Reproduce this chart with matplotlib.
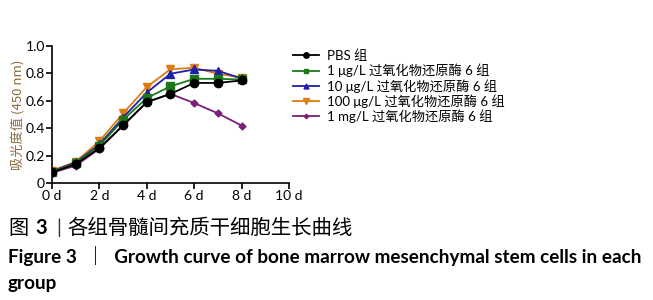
import numpy as np
import matplotlib.pyplot as plt

plt.rcParams['font.family'] = ['Lato', 'Noto Sans CJK SC', 'DejaVu Sans']

# Data
days = [0, 1, 2, 3, 4, 5, 6, 7, 8]
pbs = [0.077, 0.138, 0.254, 0.42, 0.59, 0.65, 0.73, 0.73, 0.748]
g1ug = [0.08, 0.145, 0.272, 0.46, 0.62, 0.705, 0.76, 0.76, 0.755]
g10ug = [0.085, 0.15, 0.282, 0.477, 0.66, 0.797, 0.828, 0.818, 0.763]
g100ug = [0.09, 0.155, 0.305, 0.508, 0.70, 0.83, 0.84, 0.797, 0.768]
g1mg = [0.075, 0.126, 0.25, 0.42, 0.59, 0.65, 0.583, 0.508, 0.419]

labels = ["PBS 组", "1 μg/L 过氧化物还原酶 6 组", "10 μg/L 过氧化物还原酶 6 组",
          "100 μg/L 过氧化物还原酶 6 组", "1 mg/L 过氧化物还原酶 6 组"]
colors = ['#000000', '#1a7a1a', '#1f1fa8', '#e07b10', '#7a1f7a']
markers = ['o', 's', '^', 'v', 'D']
msizes = [6, 5.5, 5.5, 6, 3.5]
series = [pbs, g1ug, g10ug, g100ug, g1mg]
xticks = [0, 2, 4, 6, 8, 10]
yticks = [0, 0.2, 0.4, 0.6, 0.8, 1.0]

cjk = ['Noto Sans CJK SC', 'DejaVu Sans']

fig = plt.figure(figsize=(6.53, 3.0), dpi=100)
ax = fig.add_axes([0.0796, 0.39, 0.363, 0.457])

# draw purple first so the others sit on top
handles = {}
for i in [4, 3, 2, 1, 0]:
    h, = ax.plot(days, series[i], color=colors[i], marker=markers[i], markersize=msizes[i],
                 linewidth=1.3, label=labels[i], zorder=3 + (4 - i))
    handles[i] = h

ax.set_xlim(0, 10)
ax.set_ylim(0, 1.0)
ax.set_xticks(xticks)
ax.set_xticklabels([f"{d} d" for d in xticks])
ax.set_yticks(yticks)
ax.set_yticklabels(['0', '0.2', '0.4', '0.6', '0.8', '1.0'])
ax.spines['top'].set_visible(False)
ax.spines['right'].set_visible(False)
ax.spines['left'].set_linewidth(1.2)
ax.spines['bottom'].set_linewidth(1.2)
ax.tick_params(direction='out', length=4, width=1.2, labelsize=10, pad=1)
ax.set_ylabel("吸光度值 (450 nm)", color='#8b6a3e', fontsize=9.5,
              family=cjk, labelpad=1)

fig.legend([handles[i] for i in range(5)], labels, loc='upper left',
           bbox_to_anchor=(0.43, 0.875), frameon=False, fontsize=9.5,
           handlelength=2.0, handletextpad=0.6, labelspacing=0.12, markerscale=0.65)

fig.text(0.012, 0.24, "图", fontsize=14.5, va='center', family=cjk)
fig.text(0.054, 0.24, "3", fontsize=14.5, fontweight='bold', va='center')
fig.text(0.086, 0.24, "|", fontsize=14, va='center', color='#333333')
fig.text(0.104, 0.24, "各组骨髓间充质干细胞生长曲线", fontsize=14.7, va='center', family=cjk)
fig.text(0.012, 0.145, "Figure 3  ｜  Growth curve of bone marrow mesenchymal stem cells in each",
         fontsize=13.6, fontweight='bold', va='center')
fig.text(0.012, 0.055, "group", fontsize=13.6, fontweight='bold', va='center')

fig.savefig('out.png', dpi=100)
